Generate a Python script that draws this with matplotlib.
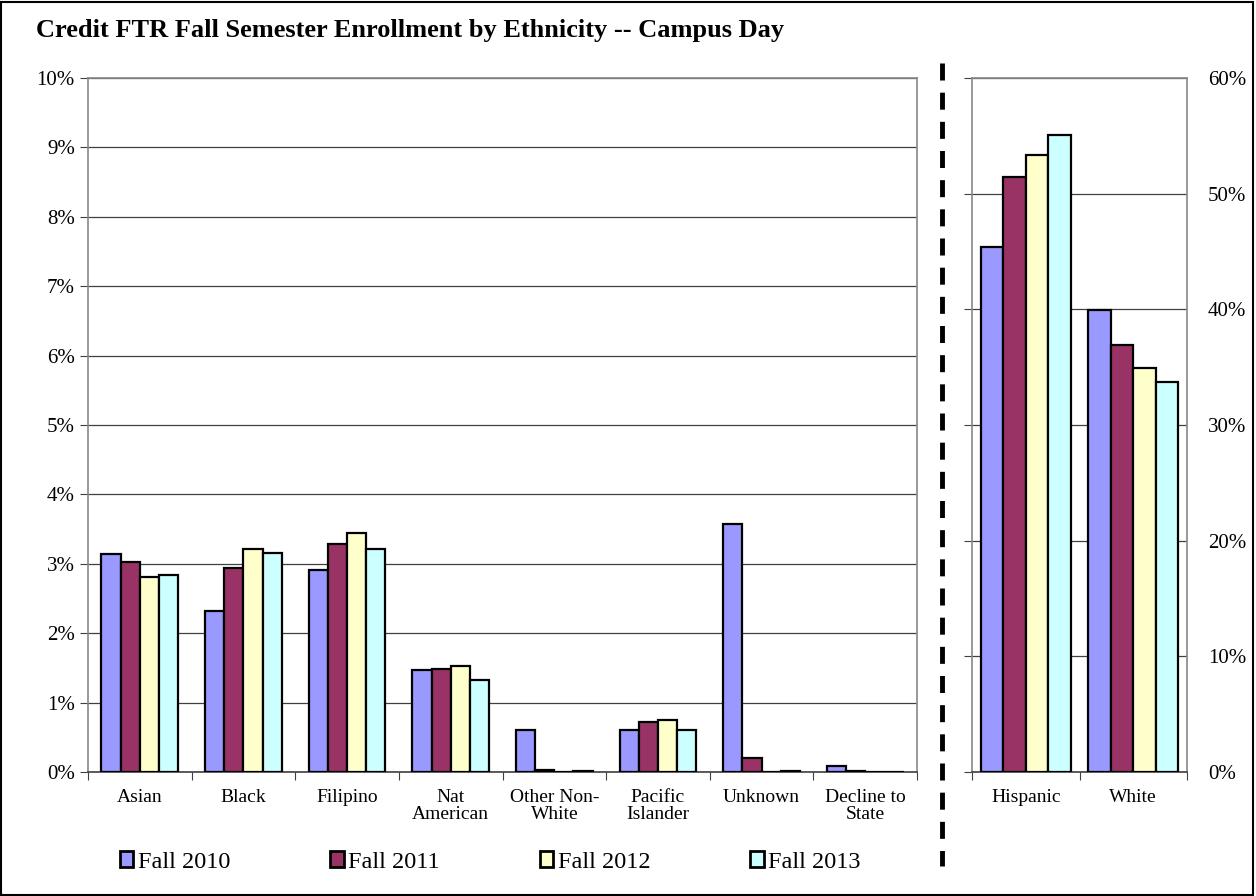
import numpy as np
import matplotlib
matplotlib.use("Agg")
from matplotlib import pyplot as plt
from matplotlib.patches import Rectangle
from matplotlib.lines import Line2D
from matplotlib.ticker import FuncFormatter

plt.rcParams['font.family'] = ['Liberation Serif', 'DejaVu Serif']

# data
left_cats = ["Asian", "Black", "Filipino", "Nat\nAmerican", "Other Non-\nWhite",
             "Pacific\nIslander", "Unknown", "Decline to\nState"]
right_cats = ["Hispanic", "White"]
years = ["Fall 2010", "Fall 2011", "Fall 2012", "Fall 2013"]
colors = ["#9999ff", "#993366", "#ffffcc", "#ccffff"]

left_vals = {
    "Fall 2010": [3.14, 2.32, 2.91, 1.47, 0.60, 0.60, 3.57, 0.08],
    "Fall 2011": [3.03, 2.94, 3.29, 1.49, 0.035, 0.72, 0.20, 0.01],
    "Fall 2012": [2.81, 3.22, 3.45, 1.53, 0.0, 0.745, 0.0, 0.0],
    "Fall 2013": [2.84, 3.16, 3.21, 1.32, 0.01, 0.61, 0.01, 0.0],
}
right_vals = {
    "Fall 2010": [45.4, 39.9],
    "Fall 2011": [51.4, 36.9],
    "Fall 2012": [53.3, 34.9],
    "Fall 2013": [55.1, 33.7],
}

W, H = 1256, 896
fig = plt.figure(figsize=(12.56, 8.96), dpi=100)
axl = fig.add_axes([88/W, (H-772)/H, 829/W, 694/H])
axr = fig.add_axes([972/W, (H-772)/H, 215/W, 694/H])

pct = FuncFormatter(lambda v, p: "%d%%" % round(v))

def draw(ax, cats, vals, width, ymax, step):
    x = np.arange(len(cats))
    for i, yr in enumerate(years):
        ax.bar(x + (i - 1.5) * width, vals[yr], width, color=colors[i],
               edgecolor="black", linewidth=1.6, zorder=3, label=yr)
    ax.set_xlim(-0.5, len(cats) - 0.5)
    ax.set_ylim(0, ymax)
    ax.set_yticks(np.arange(0, ymax + step / 2, step))
    ax.yaxis.set_major_formatter(pct)
    ax.grid(axis="y", color="#404040", linewidth=0.9, zorder=0)
    ax.set_xticks(np.arange(len(cats) + 1) - 0.5)
    ax.set_xticklabels([])
    ax.set_xticks(x, minor=True)
    ax.set_xticklabels(cats, minor=True, fontsize=14, linespacing=1.05)
    ax.tick_params(axis="x", which="minor", length=0, pad=12)
    ax.tick_params(axis="x", which="major", length=6, direction="out", color="#404040")
    ax.tick_params(axis="y", length=6, color="#404040", labelsize=15)
    for s in ax.spines.values():
        s.set_color("#888888")
        s.set_linewidth(1.2)
    ax.spines["bottom"].set_color("#404040")

draw(axl, left_cats, left_vals, 0.185, 10, 1)
draw(axr, right_cats, right_vals, 0.21, 60, 10)
axr.tick_params(axis="y", left=True, labelleft=False, right=False, labelright=True, pad=9)

fig.text(36/W, 1 - 31/H, "Credit FTR Fall Semester Enrollment by Ethnicity -- Campus Day",
         fontsize=19, fontweight="bold", va="center", ha="left")

# dashed separator
fig.add_artist(Line2D([942/W, 942/W], [1 - 63/H, 1 - 866/H],
                      transform=fig.transFigure, color="black", linewidth=3.5,
                      linestyle=(0, (3.5, 2.5))))

# legend
handles = [Rectangle((0, 0), 1, 1, facecolor=c, edgecolor="black", linewidth=2) for c in colors]
fig.legend(handles, years, loc="center left", bbox_to_anchor=(120/W, 1 - 862/H),
           ncol=4, frameon=False, fontsize=17.5, handlelength=0.55, handleheight=0.65,
           handletextpad=0.2, columnspacing=4.1, borderaxespad=0, borderpad=0)

# outer border
fig.add_artist(Rectangle((0.001, 0.001), 0.997, 0.997, transform=fig.transFigure,
                         fill=False, edgecolor="black", linewidth=1.5))

fig.savefig("out.png", dpi=100)
